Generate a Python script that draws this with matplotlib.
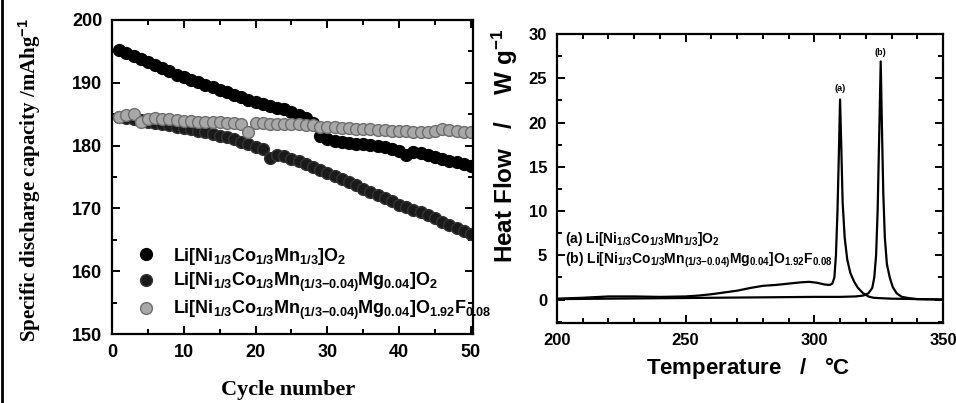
"""Two-panel figure: cycling capacity (left) and DSC heat flow (right) for layered Li-NCM cathodes."""

import matplotlib
matplotlib.use("Agg")
import matplotlib.pyplot as plt
from matplotlib.lines import Line2D
from matplotlib.ticker import MultipleLocator

plt.rcParams["mathtext.fontset"] = "custom"
plt.rcParams["mathtext.rm"] = "Liberation Sans:bold"
plt.rcParams["mathtext.it"] = "Liberation Sans:bold"
plt.rcParams["mathtext.bf"] = "Liberation Sans:bold"
plt.rcParams["font.family"] = "Liberation Sans"
plt.rcParams["font.weight"] = "bold"

# ---- left panel: discharge capacity vs cycle ----
CYCLES = list(range(1, 51))
CAP_NCM = [195.3, 194.8, 194.3, 193.8, 193.3, 192.8, 192.3, 191.8, 191.3, 190.9,
           190.5, 190.1, 189.7, 189.3, 188.9, 188.5, 188.1, 187.7, 187.3, 187.0,
           186.6, 186.3, 186.0, 185.8, 185.3, 184.9, 184.4, 183.6, 181.5, 181.0,
           180.8, 180.6, 180.4, 180.3, 180.2, 180.1, 179.9, 179.7, 179.5, 179.2,
           178.5, 179.0, 178.8, 178.5, 178.2, 177.9, 177.6, 177.4, 177.1, 176.8]
CAP_MG = [184.5, 184.4, 184.2, 184.0, 183.8, 183.6, 183.4, 183.2, 183.0, 182.8,
          182.6, 182.4, 182.2, 181.9, 181.6, 181.3, 181.0, 180.6, 180.2, 179.8,
          179.4, 178.0, 178.5, 178.3, 177.9, 177.5, 177.0, 176.6, 176.1, 175.6,
          175.2, 174.7, 174.2, 173.7, 173.1, 172.6, 172.1, 171.6, 171.1, 170.6,
          170.2, 169.8, 169.4, 168.9, 168.4, 167.9, 167.4, 166.9, 166.4, 165.9]
CAP_MGF = [184.6, 184.8, 185.0, 183.8, 184.3, 184.4, 184.3, 184.2, 184.0, 183.9,
           183.9, 183.8, 183.8, 183.7, 183.7, 183.6, 183.6, 183.5, 182.1, 183.6,
           183.6, 183.5, 183.5, 183.4, 183.4, 183.4, 183.3, 183.2, 183.0, 182.9,
           182.9, 182.8, 182.8, 182.7, 182.6, 182.6, 182.5, 182.5, 182.4, 182.3,
           182.3, 182.2, 182.2, 182.1, 182.4, 182.7, 182.5, 182.3, 182.2, 182.1]
LABELS_L = [
    r"Li[Ni$_{1/3}$Co$_{1/3}$Mn$_{1/3}$]O$_2$",
    r"Li[Ni$_{1/3}$Co$_{1/3}$Mn$_{(1/3\mathrm{-}0.04)}$Mg$_{0.04}$]O$_2$",
    r"Li[Ni$_{1/3}$Co$_{1/3}$Mn$_{(1/3\mathrm{-}0.04)}$Mg$_{0.04}$]O$_{1.92}$F$_{0.08}$",
]

# ---- right panel: DSC traces ----
T_A = [200, 210, 220, 230, 240, 250, 255, 260, 265, 270, 275, 280, 285, 290, 295, 298,
       301, 304, 306, 307, 307.8, 308.4, 309, 309.5, 310, 310.5, 311, 311.8, 312.8, 314,
       315.5, 317, 319, 321, 323, 326, 330, 340, 350]
HF_A = [0.1, 0.2, 0.35, 0.35, 0.3, 0.35, 0.45, 0.6, 0.8, 1.0, 1.3, 1.55, 1.65, 1.8, 1.95, 2.0,
        1.9, 1.7, 1.65, 1.8, 2.5, 5.0, 10.0, 16.0, 22.6, 17.0, 11.0, 7.0, 4.5, 3.0,
        2.0, 1.3, 0.7, 0.35, 0.2, 0.15, 0.1, 0.05, 0.0]
T_B = [200, 220, 240, 260, 280, 300, 310, 316, 319, 321, 322.5, 323.3, 324, 324.6, 325.1,
       325.8, 326.3, 326.8, 327.4, 328.2, 329.3, 330.5, 332, 334, 337, 340, 350]
HF_B = [0.05, 0.1, 0.15, 0.2, 0.25, 0.3, 0.3, 0.35, 0.45, 0.7, 1.3, 2.5, 5.0, 10.0, 17.0,
        26.9, 19.0, 12.0, 7.0, 4.0, 2.5, 1.4, 0.7, 0.3, 0.15, 0.05, 0.0]
LABELS_R = [
    r"(a) Li[Ni$_{1/3}$Co$_{1/3}$Mn$_{1/3}$]O$_2$",
    r"(b) Li[Ni$_{1/3}$Co$_{1/3}$Mn$_{(1/3\mathrm{-}0.04)}$Mg$_{0.04}$]O$_{1.92}$F$_{0.08}$",
]


def style_ticks(ax, size):
    ax.tick_params(which="both", direction="in", top=True, right=True, width=1.4,
                   labelsize=size, pad=7)
    ax.tick_params(which="major", length=6)
    ax.tick_params(which="minor", length=3.5)
    for s in ax.spines.values():
        s.set_linewidth(1.6)
    for lab in ax.get_xticklabels() + ax.get_yticklabels():
        lab.set_fontweight("bold")


fig = plt.figure(figsize=(9.56, 4.03), dpi=100)
fig.add_artist(Line2D([0.002, 0.002], [0, 1], transform=fig.transFigure, color="black", lw=2))

# left
axL = fig.add_axes([0.1172, 0.1712, 0.3776, 0.7792])
axL.plot(CYCLES, CAP_NCM, "o", ms=8.5, color="black", label=LABELS_L[0])
axL.plot(CYCLES, CAP_MG, "o", ms=8.5, color="#1a1a1a", mec="#333333", label=LABELS_L[1])
axL.plot(CYCLES, CAP_MGF, "o", ms=8.5, mfc="#a8a8a8", mec="#6e6e6e", mew=1.0, label=LABELS_L[2])
axL.set_xlim(0, 50.3)
axL.set_ylim(150, 200)
axL.xaxis.set_major_locator(MultipleLocator(10))
axL.xaxis.set_minor_locator(MultipleLocator(5))
axL.yaxis.set_major_locator(MultipleLocator(10))
axL.yaxis.set_minor_locator(MultipleLocator(5))
style_ticks(axL, 13)
axL.set_xlabel("Cycle number", family="Liberation Serif", fontsize=16, fontweight="bold")
axL.set_ylabel(r"Specific discharge capacity /mAhg$^{-1}$", family="Liberation Serif",
               fontsize=15, fontweight="bold")
axL.xaxis.set_label_coords(0.4875, -0.145)
axL.yaxis.set_label_coords(-0.19, 0.49)
axL.legend(loc="lower left", bbox_to_anchor=(0.05, 0.015), frameon=False, fontsize=13,
           handlelength=1.0, handletextpad=1.0, labelspacing=0.25, borderaxespad=0)

# right
axR = fig.add_axes([0.5826, 0.1985, 0.4038, 0.7171])
axR.plot(T_A, HF_A, color="black", lw=1.6)
axR.plot(T_B, HF_B, color="black", lw=1.6)
axR.set_xlim(200, 350)
axR.set_ylim(-2.65, 30)
axR.xaxis.set_major_locator(MultipleLocator(50))
axR.xaxis.set_minor_locator(MultipleLocator(10))
axR.yaxis.set_major_locator(MultipleLocator(5))
axR.yaxis.set_minor_locator(MultipleLocator(2.5))
style_ticks(axR, 12)
axR.set_xlabel("Temperature   /   $\\degree$C", fontsize=16, fontweight="bold")
axR.set_ylabel(r"Heat Flow   /    W g$^{-1}$", fontsize=17.5, fontweight="bold")
axR.xaxis.set_label_coords(0.495, -0.110)
axR.yaxis.set_label_coords(-0.095, 0.612)
axR.text(310, 23.3, "(a)", fontsize=6.5, fontweight="bold", ha="center", va="bottom")
axR.text(325.5, 27.4, "(b)", fontsize=6.5, fontweight="bold", ha="center", va="bottom")
axR.text(203, 6.8, LABELS_R[0], fontsize=10, fontweight="bold", va="center")
axR.text(203, 4.4, LABELS_R[1], fontsize=10, fontweight="bold", va="center")

fig.savefig("out.png", dpi=100)
